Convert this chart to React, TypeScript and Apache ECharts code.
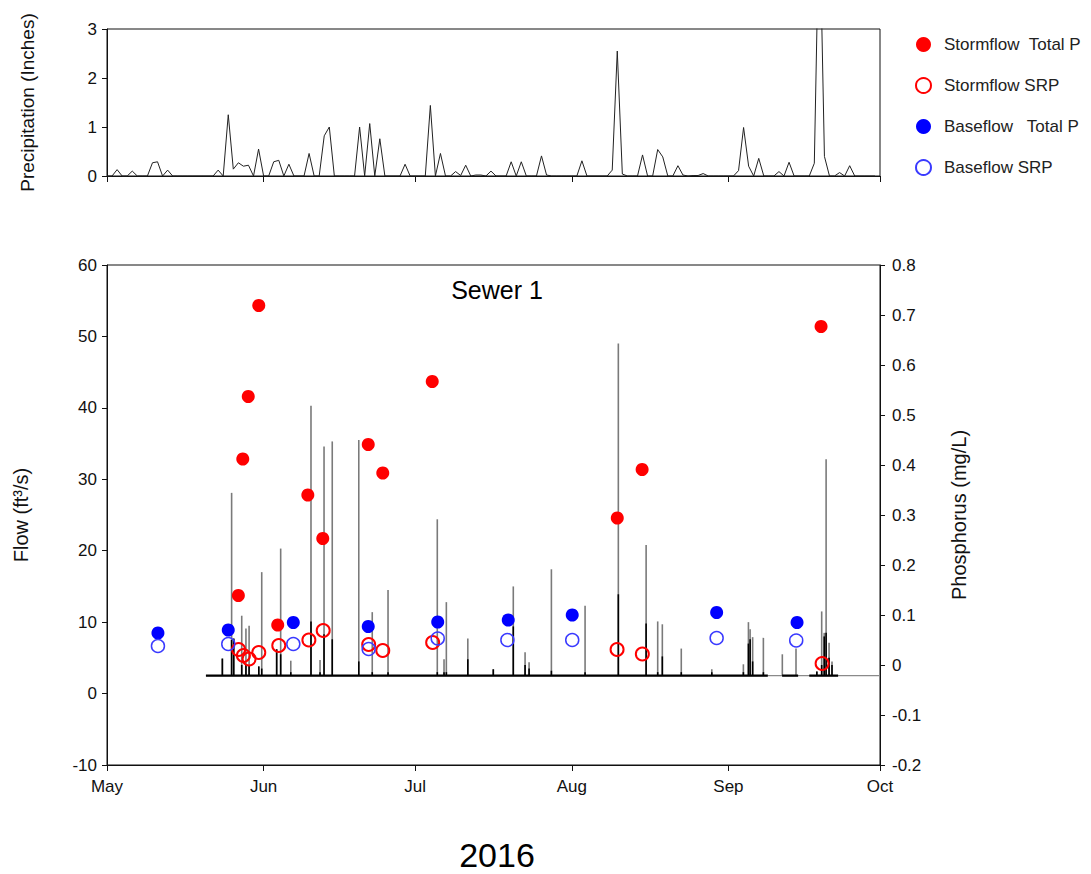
import React, { useEffect, useRef } from 'react';
import * as echarts from 'echarts';

// ---------- data ----------
const monthLabels = ['May', 'Jun', 'Jul', 'Aug', 'Sep', 'Oct'];
const monthStarts = ['2016-05-01', '2016-06-01', '2016-07-01', '2016-08-01', '2016-09-01', '2016-10-01'];

// daily precipitation (inches), May 1 .. Sep 30 2016
const precipMay = [0, 0, 0.13, 0, 0, 0.10, 0, 0, 0, 0.27, 0.29, 0, 0.12, 0, 0, 0, 0, 0, 0, 0, 0, 0, 0.12, 0, 1.25, 0.14, 0.27, 0.20, 0.22, 0, 0.55];
const precipJun = [0, 0, 0.29, 0.32, 0, 0.24, 0, 0, 0, 0.46, 0, 0, 0.82, 1.00, 0, 0, 0, 0, 0, 1.00, 0, 1.07, 0, 0.76, 0, 0, 0, 0, 0.24, 0];
const precipJul = [0, 0, 0, 1.44, 0, 0.46, 0, 0, 0.09, 0.01, 0.22, 0, 0.02, 0.02, 0, 0.10, 0, 0, 0, 0.29, 0, 0.29, 0, 0, 0, 0.41, 0.02, 0, 0, 0, 0];
const precipAug = [0, 0, 0.31, 0, 0, 0, 0, 0, 0.12, 2.55, 0.04, 0, 0, 0, 0.43, 0, 0, 0.54, 0.39, 0, 0, 0.21, 0.02, 0, 0.01, 0.01, 0.05, 0, 0, 0, 0];
const precipSep = [0, 0, 0.11, 0.99, 0.20, 0, 0.36, 0, 0, 0, 0.09, 0, 0.28, 0, 0, 0, 0, 0.26, 5.6, 0.40, 0, 0, 0.07, 0, 0.21, 0, 0, 0, 0, 0];

// flow (ft3/s): base level and storm spikes
const baseFlow = 2.5;
const baseFlowStart = '2016-05-20 14:00';
const baseFlowEnd = '2016-10-01 00:00';
const recordSegments = [
  ['2016-05-20 14:00', '2016-09-08 19:00'],
  ['2016-09-11 15:00', '2016-09-14 19:00'],
  ['2016-09-17 00:00', '2016-09-22 17:00'],
];
const spikeTimes = [
  '2016-05-23 20:00', '2016-05-25 16:00', '2016-05-26 02:00', '2016-05-27 16:00', '2016-05-28 12:00',
  '2016-05-29 03:00', '2016-05-31 01:00', '2016-05-31 15:00', '2016-06-03 14:00', '2016-06-04 09:00',
  '2016-06-06 09:00', '2016-06-10 09:00', '2016-06-12 04:00', '2016-06-12 23:00', '2016-06-14 14:00',
  '2016-06-19 20:00', '2016-06-22 12:00', '2016-06-25 15:00', '2016-07-05 09:00', '2016-07-06 17:00',
  '2016-07-07 04:00', '2016-07-11 10:00', '2016-07-16 11:00', '2016-07-20 10:00', '2016-07-22 18:00',
  '2016-07-23 13:00', '2016-07-27 23:00', '2016-08-03 15:00', '2016-08-10 05:00', '2016-08-15 17:00',
  '2016-08-18 00:00', '2016-08-18 22:00', '2016-08-22 16:00', '2016-08-28 17:00', '2016-09-03 23:00',
  '2016-09-04 23:00', '2016-09-05 07:00', '2016-09-05 19:00', '2016-09-07 22:00', '2016-09-11 16:00',
  '2016-09-14 09:00', '2016-09-18 12:00', '2016-09-19 11:00', '2016-09-19 23:00', '2016-09-20 08:00',
  '2016-09-20 22:00', '2016-09-21 12:00',
];
const spikePeaks = [
  4.9, 28.1, 7.7, 10.9, 9.1,
  9.5, 3.8, 17.0, 6.2, 20.3,
  4.6, 40.3, 4.7, 34.6, 35.3,
  35.5, 11.4, 14.5, 24.4, 4.8,
  12.8, 7.7, 3.4, 15.0, 5.8,
  4.4, 17.4, 12.3, 49.0, 20.8,
  10.1, 9.7, 6.3, 3.4, 4.1,
  10.0, 9.0, 7.9, 7.8, 5.5,
  6.3, 3.1, 11.5, 8.5, 32.8,
  7.1, 4.5,
];
const spikeCores = [
  4.9, 7.5, 7.7, 4.0, 4.0,
  4.0, 3.8, 3.5, 6.2, 5.5,
  3.0, 10.1, 3.0, 8.3, 7.6,
  4.5, 3.0, 3.0, 3.0, 3.0,
  3.0, 4.8, 3.4, 9.4, 4.0,
  3.5, 3.2, 3.0, 13.9, 9.8,
  3.0, 5.2, 3.0, 3.0, 3.0,
  7.0, 7.6, 4.5, 3.0, 2.5,
  2.5, 3.1, 4.0, 8.0, 8.5,
  5.0, 4.0,
];

// phosphorus (mg/L)
const stormTPTimes = ['2016-05-27 00:00', '2016-05-27 21:00', '2016-05-28 23:00', '2016-05-31 01:00', '2016-06-03 19:00', '2016-06-09 18:00', '2016-06-12 17:00', '2016-06-21 17:00', '2016-06-24 14:00', '2016-07-04 09:00', '2016-08-10 00:00', '2016-08-14 22:00', '2016-09-19 08:00'];
const stormTPValues = [0.139, 0.412, 0.537, 0.719, 0.080, 0.340, 0.253, 0.441, 0.384, 0.567, 0.294, 0.391, 0.677];
const stormSRPTimes = ['2016-05-27 01:00', '2016-05-28 00:00', '2016-05-29 03:00', '2016-05-31 01:00', '2016-06-04 00:00', '2016-06-09 23:00', '2016-06-12 19:00', '2016-06-21 19:00', '2016-06-24 14:00', '2016-07-04 11:00', '2016-08-09 23:00', '2016-08-14 23:00', '2016-09-19 13:00'];
const stormSRPValues = [0.031, 0.019, 0.012, 0.025, 0.039, 0.050, 0.069, 0.041, 0.029, 0.045, 0.031, 0.022, 0.003];
const baseTPTimes = ['2016-05-11 02:00', '2016-05-25 00:00', '2016-06-06 21:00', '2016-06-21 17:00', '2016-07-05 11:00', '2016-07-19 10:00', '2016-08-01 02:00', '2016-08-29 16:00', '2016-09-14 14:00'];
const baseTPValues = [0.064, 0.070, 0.085, 0.077, 0.086, 0.090, 0.100, 0.105, 0.085];
const baseSRPTimes = ['2016-05-11 02:00', '2016-05-25 00:00', '2016-06-06 21:00', '2016-06-21 19:00', '2016-07-05 11:00', '2016-07-19 06:00', '2016-08-01 02:00', '2016-08-29 16:00', '2016-09-14 10:00'];
const baseSRPValues = [0.038, 0.042, 0.042, 0.032, 0.053, 0.050, 0.050, 0.054, 0.049];

// ---------- helpers ----------
const FONT = 'Liberation Sans, Arial, sans-serif';
const INK = '#111';

// parse 'YYYY-MM-DD[ HH:MM]' as a local timestamp
const ts = (s: string) => {
  const [d, t] = s.split(' ');
  const [y, m, day] = d.split('-').map(Number);
  const [hh, mm] = (t || '00:00').split(':').map(Number);
  return new Date(y, m - 1, day, hh, mm).getTime();
};
const zipT = (times: string[], vals: number[]) => times.map((t, i) => [ts(t), vals[i]]);

export default function App() {
  const ref = useRef<HTMLDivElement>(null);

  useEffect(() => {
    if (!ref.current) return;
    const chart = echarts.init(ref.current, undefined, { renderer: 'svg' });

    const precipAll = [...precipMay, ...precipJun, ...precipJul, ...precipAug, ...precipSep];
    const precipData = precipAll.map((v, i) => [new Date(2016, 4, 1 + i).getTime(), v]);

    const recordData: any[] = [];
    recordSegments.forEach((seg, i) => {
      if (i > 0) recordData.push([ts(seg[0]), '-']);
      recordData.push([ts(seg[0]), baseFlow], [ts(seg[1]), baseFlow]);
    });

    const spikeData = spikeTimes.map((t, i) => [ts(t), spikePeaks[i], spikeCores[i]]);
    const monthTs = monthStarts.map((s) => ts(s));
    const monthFmt = (v: number) => {
      const i = monthTs.findIndex((m) => Math.abs(m - v) < 3600000);
      return i >= 0 ? monthLabels[i] : '';
    };

    const xCommon = {
      type: 'value',
      min: monthTs[0],
      max: monthTs[monthTs.length - 1],
      splitLine: { show: false },
      axisLine: { show: true, onZero: false, lineStyle: { color: INK, width: 1 } },
      axisTick: { show: true, inside: false, length: 6, customValues: monthTs, lineStyle: { color: INK } },
    };

    const labelStyle = { fontFamily: FONT, fontSize: 17, color: INK };

    const option: any = {
      animation: false,
      backgroundColor: '#fff',
      grid: [
        { left: 107, top: 29, width: 773, height: 147, show: true, borderColor: INK, borderWidth: 1 },
        { left: 107, top: 265, width: 773, height: 500, show: true, borderColor: INK, borderWidth: 1 },
      ],
      xAxis: [
        { ...xCommon, gridIndex: 0, axisLabel: { show: false } },
        {
          ...xCommon,
          gridIndex: 1,
          axisLabel: { ...labelStyle, margin: 13, customValues: monthTs, formatter: monthFmt },
        },
      ],
      yAxis: [
        {
          gridIndex: 0, type: 'value', min: 0, max: 3, interval: 1,
          name: 'Precipitation (Inches)', nameLocation: 'middle', nameGap: 70, nameRotate: 90,
          nameTextStyle: { fontFamily: FONT, fontSize: 19, color: INK },
          axisLine: { show: true, lineStyle: { color: INK } },
          axisTick: { show: true, length: 5, lineStyle: { color: INK } },
          axisLabel: { ...labelStyle, margin: 10 },
          splitLine: { show: false },
        },
        {
          gridIndex: 1, type: 'value', min: -10, max: 60, interval: 10,
          name: 'Flow (ft³/s)', nameLocation: 'middle', nameGap: 76, nameRotate: 90,
          nameTextStyle: { fontFamily: FONT, fontSize: 20, color: INK },
          axisLine: { show: true, onZero: false, lineStyle: { color: INK } },
          axisTick: { show: true, length: 5, lineStyle: { color: INK } },
          axisLabel: { ...labelStyle, margin: 10 },
          splitLine: { show: false },
        },
        {
          gridIndex: 1, type: 'value', position: 'right', min: -0.2, max: 0.8, interval: 0.1,
          name: 'Phosphorus (mg/L)', nameLocation: 'middle', nameGap: 69, nameRotate: 90,
          nameTextStyle: { fontFamily: FONT, fontSize: 20, color: INK },
          axisLine: { show: true, onZero: false, lineStyle: { color: INK } },
          axisTick: { show: true, length: 5, lineStyle: { color: INK } },
          axisLabel: { ...labelStyle, margin: 12, formatter: (v: number) => String(Math.round(v * 10) / 10) },
          splitLine: { show: false },
        },
      ],
      legend: {
        orient: 'vertical',
        left: 910,
        top: 31,
        itemWidth: 15,
        itemHeight: 15,
        itemGap: 24,
        data: ['Stormflow  Total P', 'Stormflow SRP', 'Baseflow   Total P', 'Baseflow SRP'],
        textStyle: { fontFamily: FONT, fontSize: 17, color: '#222', padding: [0, 0, 0, 8] },
        selectedMode: false,
      },
      graphic: [
        { type: 'text', x: 497, y: 290, style: { text: 'Sewer 1', fontFamily: FONT, fontSize: 25, fill: '#000', textAlign: 'center', textVerticalAlign: 'middle' } },
        { type: 'text', x: 497, y: 855, style: { text: '2016', fontFamily: FONT, fontSize: 34, fill: '#000', textAlign: 'center', textVerticalAlign: 'middle' } },
      ],
      series: [
        {
          type: 'line', name: 'Precipitation', xAxisIndex: 0, yAxisIndex: 0,
          data: precipData, showSymbol: false, clip: true,
          lineStyle: { color: '#222', width: 1 },
        },
        {
          type: 'line', name: 'flow-tail', xAxisIndex: 1, yAxisIndex: 1,
          data: [[ts(baseFlowStart), baseFlow], [ts(baseFlowEnd), baseFlow]], showSymbol: false,
          lineStyle: { color: '#8a8a8a', width: 1.2 }, z: 1,
        },
        {
          type: 'custom', name: 'flow-spikes', xAxisIndex: 1, yAxisIndex: 1,
          data: spikeData, encode: { x: 0, y: 1 }, z: 2,
          renderItem: (_p: any, api: any) => {
            const t = api.value(0);
            const b = api.coord([t, baseFlow]);
            const top = api.coord([t, api.value(1)]);
            const core = api.coord([t, api.value(2)]);
            return {
              type: 'group',
              children: [
                { type: 'line', shape: { x1: b[0], y1: b[1], x2: top[0], y2: top[1] }, style: { stroke: '#7a7a7a', lineWidth: 1.6 } },
                { type: 'line', shape: { x1: b[0], y1: b[1], x2: core[0], y2: core[1] }, style: { stroke: '#000', lineWidth: 1.6 } },
              ],
            };
          },
        },
        {
          type: 'line', name: 'flow-record', xAxisIndex: 1, yAxisIndex: 1,
          data: recordData, showSymbol: false, connectNulls: false,
          lineStyle: { color: '#000', width: 2.2 }, z: 3,
        },
        {
          type: 'scatter', name: 'Stormflow  Total P', xAxisIndex: 1, yAxisIndex: 2,
          data: zipT(stormTPTimes, stormTPValues), symbol: 'circle', symbolSize: 13, z: 5,
          itemStyle: { color: '#ff0000', opacity: 1 },
        },
        {
          type: 'scatter', name: 'Stormflow SRP', xAxisIndex: 1, yAxisIndex: 2,
          data: zipT(stormSRPTimes, stormSRPValues), symbol: 'circle', symbolSize: 13, z: 5,
          itemStyle: { color: 'rgba(255,255,255,0)', borderColor: '#ff0000', borderWidth: 2, opacity: 1 },
        },
        {
          type: 'scatter', name: 'Baseflow   Total P', xAxisIndex: 1, yAxisIndex: 2,
          data: zipT(baseTPTimes, baseTPValues), symbol: 'circle', symbolSize: 13, z: 5,
          itemStyle: { color: '#0000ff', opacity: 1 },
        },
        {
          type: 'scatter', name: 'Baseflow SRP', xAxisIndex: 1, yAxisIndex: 2,
          data: zipT(baseSRPTimes, baseSRPValues), symbol: 'circle', symbolSize: 13, z: 5,
          itemStyle: { color: 'rgba(255,255,255,0)', borderColor: '#3a3aff', borderWidth: 1.5, opacity: 1 },
        },
      ],
    };

    chart.setOption(option);
    return () => chart.dispose();
  }, []);

  return <div ref={ref} style={{ position: 'absolute', left: 0, top: 0, width: 1091, height: 874 }} />;
}
